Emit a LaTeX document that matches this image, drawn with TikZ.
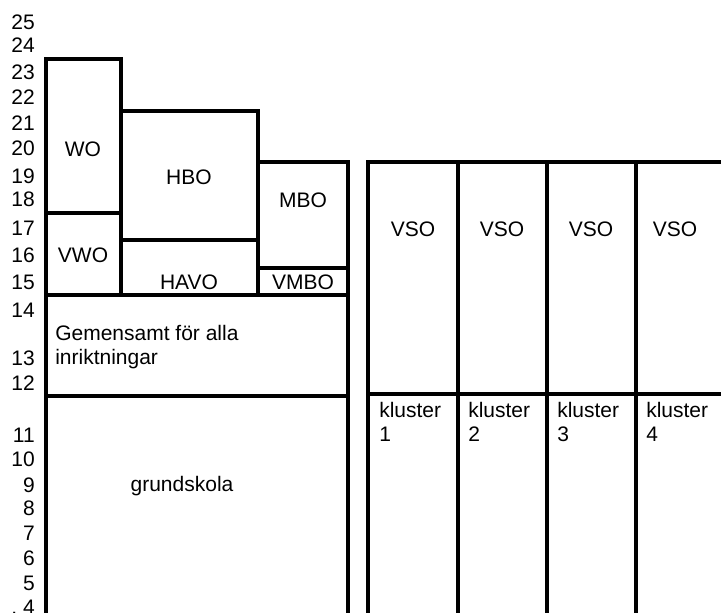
\documentclass[tikz,border=0pt]{standalone}
\usepackage{fontspec}
\setmainfont{Liberation Sans}
\tikzset{
  lbl/.style={inner sep=0pt,anchor=base},
  lbll/.style={inner sep=0pt,anchor=base west,align=left},
  wall/.style={line width=2.4pt,line join=miter}
}
\begin{document}
\begin{tikzpicture}[x=0.75pt,y=-0.75pt,font=\fontsize{15.75pt}{18pt}\selectfont]
\clip (0,0) rectangle (721,613);
% age scale
\foreach \n/\y in {25/30,24/53,23/80,22/105,21/131,20/156,19/184,18/207,17/235,16/262,15/289,14/317,13/365,12/390,11/442,10/466,9/492,8/515,7/540,6/565,5/590}
  \node[inner sep=0pt,anchor=base east] (age\n) at (35,\y) {\n};
\node[inner sep=0pt,anchor=base east] (age4) at (35,614) {.\ 4};
% left block
\draw[wall] (46,613) -- (46,59) -- (121,59) -- (121,295);
\draw[wall] (46,213) -- (121,213);
\draw[wall] (121,111) -- (258,111) -- (258,295);
\draw[wall] (121,240) -- (258,240);
\draw[wall] (258,162) -- (348,162) -- (348,613);
\draw[wall] (258,268) -- (348,268);
\draw[wall] (46,295) -- (348,295);
\draw[wall] (46,396) -- (348,396);
\node[lbl] (wo) at (83,156.5) {WO};
\node[lbl] (vwo) at (83,262.5) {VWO};
\node[lbl] (hbo) at (189,184.5) {HBO};
\node[lbl] (havo) at (189,289.5) {HAVO};
\node[lbl] (mbo) at (303,207.5) {MBO};
\node[lbl] (vmbo) at (303,289.5) {VMBO};
\node[lbl,anchor=base west] (gem) at (55,340) {Gemensamt för alla};
\node[lbl,anchor=base west] (gem2) at (55,364) {inriktningar};
\node[lbl] (grund) at (182,491) {grundskola};
% right block
\draw[wall] (368,613) -- (368,162) -- (725,162);
\draw[wall] (368,394) -- (725,394);
\foreach \x in {458,547,636}
  \draw[wall] (\x,162) -- (\x,613);
\foreach \i/\c/\l in {1/413/379,2/502/468,3/591/557,4/675/646}{
  \node[lbl] (vso\i) at (\c,236.5) {VSO};
  \node[lbll] (kl\i) at (\l,441) {kluster\\\i};
}
\end{tikzpicture}
\end{document}
